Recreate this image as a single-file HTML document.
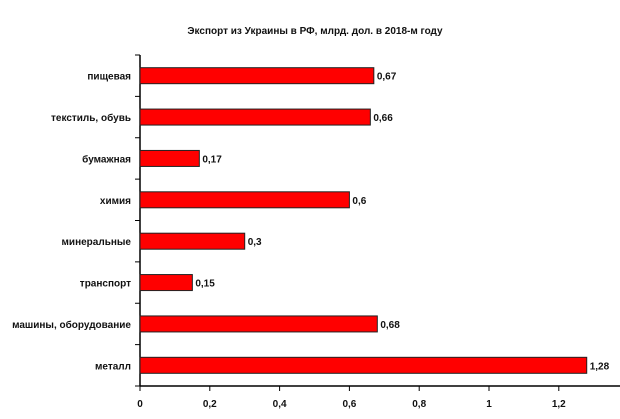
<!DOCTYPE html>
<html><head><meta charset="utf-8"><style>
body{margin:0;background:#fff;}
svg{display:block;font-family:"Liberation Sans",Arial,sans-serif;}
</style></head><body>
<svg id="chart" width="620" height="419">
<text x="315" y="34" text-anchor="middle" font-size="10" font-weight="bold" fill="#111">Экспорт из Украины в РФ, млрд. дол. в 2018-м году</text>
<g id="plot"></g>
</svg>
<script>
const categories=["пищевая","текстиль, обувь","бумажная","химия","минеральные","транспорт","машины, оборудование","металл"];
const values=[0.67,0.66,0.17,0.6,0.3,0.15,0.68,1.28];
const valueLabels=["0,67","0,66","0,17","0,6","0,3","0,15","0,68","1,28"];
const tickValues=[0,0.2,0.4,0.6,0.8,1,1.2];
const tickLabels=["0","0,2","0,4","0,6","0,8","1","1,2"];
const NS="http://www.w3.org/2000/svg";
const g=document.getElementById('plot');
const x0=140,xScale=349,plotTop=55,plotBottom=386,band=(plotBottom-plotTop)/categories.length,bh=16;
const X=v=>x0+v*xScale;
function mk(t,a){const e=document.createElementNS(NS,t);for(const k in a)e.setAttribute(k,a[k]);g.appendChild(e);return e;}
let e;
e=mk('line',{x1:x0,y1:plotTop,x2:x0,y2:plotBottom,stroke:'#000','stroke-width':1.5});


e=mk('line',{x1:x0,y1:plotBottom,x2:620,y2:plotBottom,stroke:'#000','stroke-width':1.5});


for(let i=0;i<=categories.length;i++){
 e=mk('line',{x1:x0-5,y1:plotTop+i*band,x2:x0,y2:plotTop+i*band,stroke:'#000'});
 
 
}
tickValues.forEach((v,i)=>{
 e=mk('line',{x1:X(v),y1:plotBottom,x2:X(v),y2:plotBottom+5,stroke:'#000'});
 
 
 e=mk('text',{x:X(v),y:plotBottom+21,'text-anchor':'middle','font-size':10,'font-weight':'bold',fill:'#111'});
 e.textContent=tickLabels[i];
 
 
});
categories.forEach((c,i)=>{
 const cy=plotTop+band*(i+0.5);
 e=mk('rect',{x:x0,y:cy-bh/2,width:X(values[i])-x0,height:bh,fill:'#ff0000',stroke:'#222','stroke-width':1});
 
 
 e=mk('text',{x:x0-9,y:cy+4,'text-anchor':'end','font-size':10,'font-weight':'bold',fill:'#111'});
 e.textContent=c;
 
 
 e=mk('text',{x:X(values[i])+3,y:cy+4,'font-size':10,'font-weight':'bold',fill:'#111'});
 e.textContent=valueLabels[i];
 
 
});
</script>
</body></html>
